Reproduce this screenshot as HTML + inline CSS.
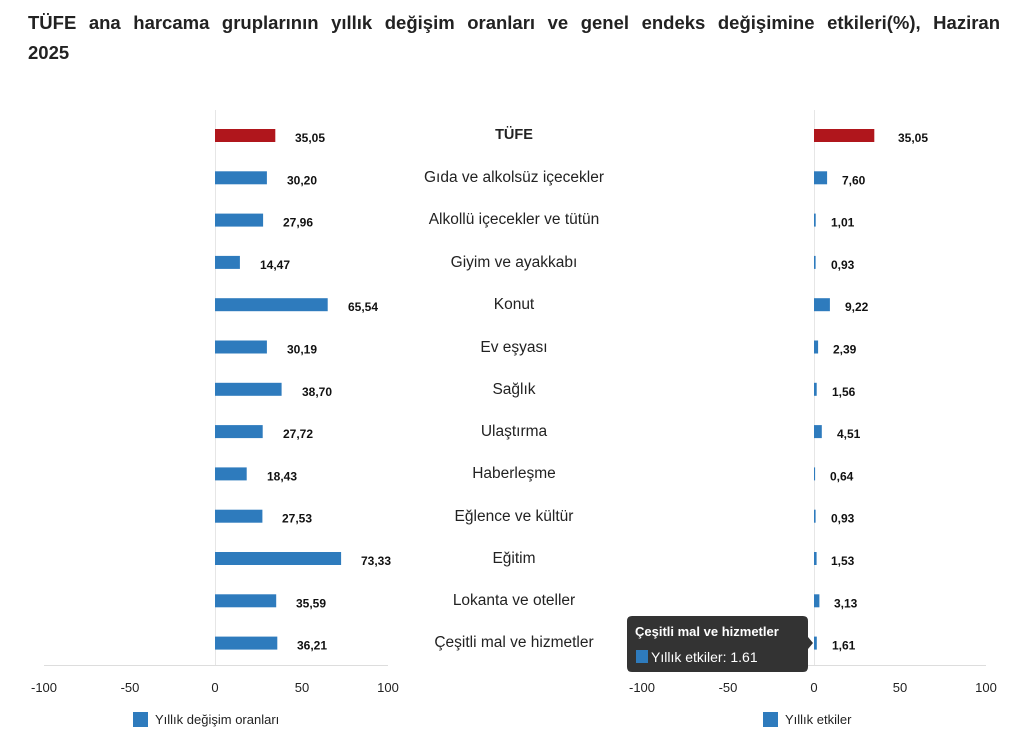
<!DOCTYPE html>
<html><head><meta charset="utf-8"><style>
body{margin:0;background:#fff;width:1030px;height:752px;overflow:hidden;font-family:"Liberation Sans",sans-serif}
.t{position:absolute;left:28px;top:8px;width:972px;font-family:"Liberation Sans",sans-serif;font-weight:bold;font-size:18.5px;line-height:30px;color:#222}
.t1{text-align:justify;text-align-last:justify;white-space:nowrap}
svg{position:absolute;left:0;top:0}
.v{font-size:12px;font-weight:bold;fill:#111}
.c{font-size:15.5px;fill:#222;text-anchor:middle;font-family:"Liberation Sans",sans-serif}
.k{font-size:13px;fill:#222;text-anchor:middle}
</style></head><body>
<div class="t"><div class="t1">TÜFE ana harcama gruplarının yıllık değişim oranları ve genel endeks değişimine etkileri(%), Haziran</div><div>2025</div></div>
<svg width="1030" height="752">
<line x1="215.5" y1="110" x2="215.5" y2="665" stroke="#e6e6e6"/>
<line x1="814.5" y1="110" x2="814.5" y2="665" stroke="#e6e6e6"/>
<line x1="44" y1="665.5" x2="388" y2="665.5" stroke="#ddd"/>
<line x1="630" y1="665.5" x2="986" y2="665.5" stroke="#ddd"/>
<g fill="#2e7bbd">
<rect x="215" y="129" width="60.3" height="13" fill="#b0161c"/>
<rect x="215" y="171.3" width="51.9" height="13"/>
<rect x="215" y="213.6" width="48.1" height="13"/>
<rect x="215" y="255.9" width="24.9" height="13"/>
<rect x="215" y="298.2" width="112.7" height="13"/>
<rect x="215" y="340.5" width="51.9" height="13"/>
<rect x="215" y="382.8" width="66.6" height="13"/>
<rect x="215" y="425.1" width="47.7" height="13"/>
<rect x="215" y="467.4" width="31.7" height="13"/>
<rect x="215" y="509.7" width="47.4" height="13"/>
<rect x="215" y="552" width="126.1" height="13"/>
<rect x="215" y="594.3" width="61.2" height="13"/>
<rect x="215" y="636.6" width="62.3" height="13"/>
<rect x="814" y="129" width="60.3" height="13" fill="#b0161c"/>
<rect x="814" y="171.3" width="13.1" height="13"/>
<rect x="814" y="213.6" width="1.7" height="13"/>
<rect x="814" y="255.9" width="1.6" height="13"/>
<rect x="814" y="298.2" width="15.9" height="13"/>
<rect x="814" y="340.5" width="4.1" height="13"/>
<rect x="814" y="382.8" width="2.7" height="13"/>
<rect x="814" y="425.1" width="7.8" height="13"/>
<rect x="814" y="467.4" width="1.1" height="13"/>
<rect x="814" y="509.7" width="1.6" height="13"/>
<rect x="814" y="552" width="2.6" height="13"/>
<rect x="814" y="594.3" width="5.4" height="13"/>
<rect x="814" y="636.6" width="2.8" height="13"/>
</g>
<g class="v">
<text x="295" y="142">35,05</text><text x="287" y="184.3">30,20</text><text x="283" y="226.6">27,96</text>
<text x="260" y="268.9">14,47</text><text x="348" y="311.2">65,54</text><text x="287" y="353.5">30,19</text>
<text x="302" y="395.8">38,70</text><text x="283" y="438.1">27,72</text><text x="267" y="480.4">18,43</text>
<text x="282" y="522.7">27,53</text><text x="361" y="565">73,33</text><text x="296" y="607.3">35,59</text>
<text x="297" y="649.6">36,21</text>
<text x="898" y="142">35,05</text><text x="842" y="184.3">7,60</text><text x="831" y="226.6">1,01</text>
<text x="831" y="268.9">0,93</text><text x="845" y="311.2">9,22</text><text x="833" y="353.5">2,39</text>
<text x="832" y="395.8">1,56</text><text x="837" y="438.1">4,51</text><text x="830" y="480.4">0,64</text>
<text x="831" y="522.7">0,93</text><text x="831" y="565">1,53</text><text x="834" y="607.3">3,13</text>
<text x="832" y="649.6">1,61</text>
</g>
<g class="c">
<text x="514" y="139" font-weight="bold" font-size="14.5">TÜFE</text>
<text x="514" y="182">Gıda ve alkolsüz içecekler</text>
<text x="514" y="224">Alkollü içecekler ve tütün</text>
<text x="514" y="267">Giyim ve ayakkabı</text>
<text x="514" y="309">Konut</text>
<text x="514" y="352">Ev eşyası</text>
<text x="514" y="394">Sağlık</text>
<text x="514" y="436">Ulaştırma</text>
<text x="514" y="478">Haberleşme</text>
<text x="514" y="521">Eğlence ve kültür</text>
<text x="514" y="563">Eğitim</text>
<text x="514" y="605">Lokanta ve oteller</text>
<text x="514" y="647">Çeşitli mal ve hizmetler</text>
</g>
<g class="k">
<text x="44" y="692">-100</text><text x="130" y="692">-50</text><text x="215" y="692">0</text><text x="302" y="692">50</text><text x="388" y="692">100</text>
<text x="642" y="692">-100</text><text x="728" y="692">-50</text><text x="814" y="692">0</text><text x="900" y="692">50</text><text x="986" y="692">100</text>
</g>
<rect x="133" y="712" width="15" height="15" fill="#2e7bbd"/>
<text x="155" y="724" font-size="13" fill="#222">Yıllık değişim oranları</text>
<rect x="763" y="712" width="15" height="15" fill="#2e7bbd"/>
<text x="785" y="724" font-size="13" fill="#222">Yıllık etkiler</text>
<path d="M632 616 H803 Q808 616 808 621 V637 L813 643 L808 649 V667 Q808 672 803 672 H632 Q627 672 627 667 V621 Q627 616 632 616 Z" fill="#333"/>
<text x="635" y="636" font-size="13" font-weight="bold" fill="#fff">Çeşitli mal ve hizmetler</text>
<rect x="636" y="650" width="12" height="13" fill="#2e7bbd"/>
<text x="651" y="662" font-size="14" fill="#fff">Yıllık etkiler: 1.61</text>
</svg>
</body></html>
